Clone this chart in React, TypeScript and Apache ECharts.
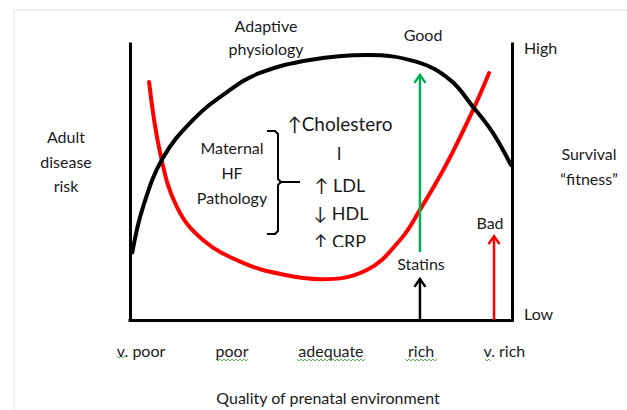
import React, { useEffect, useRef } from "react";
import * as echarts from "echarts";

// Category (tick) labels along the quality-of-environment axis and their positions (0-100 scale)
const categoryLabels = ["v. poor", "poor", "adequate", "rich", "v. rich"];
const categoryValues = [2.9, 26.7, 52.6, 76.2, 98.0];

// Black curve: survival "fitness" (adaptive physiology)
const fitnessX = [0.6, 3.4, 8.6, 16.5, 25.4, 34.0, 47.1, 62.0, 75.1, 83.8, 89.8, 95.0, 99.7];
const fitnessY = [24.5, 40.9, 58.7, 72.5, 82.6, 89.5, 94.2, 96.0, 93.5, 87.0, 77.2, 67.8, 56.2];

// Red curve: adult disease risk
const riskX = [5.0, 7.9, 12.3, 19.1, 29.6, 40.0, 50.0, 62.0, 70.7, 75.9, 83.0, 89.8, 94.0];
const riskY = [86.2, 60.5, 40.9, 29.0, 20.7, 16.5, 14.8, 18.1, 29.0, 39.9, 56.9, 76.1, 89.5];

// Arrows: x position, start value, end (tip) value
const arrowX = [75.9, 75.9, 95.3];
const arrowFrom = [24.6, 0, 0];
const arrowTo = [88.8, 14.9, 30.4];
const arrowColors = ["#00b050", "#000000", "#ff0000"];

// Right axis labels
const rightLabels = ["Low", "High"];
const rightValues = [2.5, 98.9];

const FONT = "Lato, 'DejaVu Sans', sans-serif";
const TXT = "#1a1a1a";
const FS = 16;

function squiggle(x0: number, x1: number, y: number) {
  const pts: number[][] = [];
  let up = true;
  for (let x = x0; x <= x1; x += 2) {
    pts.push([x, up ? y - 1 : y + 1]);
    up = !up;
  }
  return {
    type: "polyline",
    shape: { points: pts },
    style: { stroke: "#5fb35a", lineWidth: 1, fill: null },
    silent: true,
  };
}

function txt(text: string, x: number, y: number, size = FS, align = "center") {
  return {
    type: "text",
    x,
    y,
    style: {
      text,
      fill: TXT,
      font: `${size}px ${FONT}`,
      align,
      verticalAlign: "middle",
    },
    silent: true,
  };
}

export default function App() {
  const ref = useRef<HTMLDivElement>(null);
  useEffect(() => {
    document.body.style.margin = "0";
    const chart = echarts.init(ref.current!, null, { renderer: "svg" });
    const axisLine = { show: true, onZero: false, lineStyle: { color: "#000", width: 3, cap: "square" } };
    chart.setOption({
      animation: false,
      grid: { left: 130, right: 115, top: 44, bottom: 90 },
      xAxis: {
        type: "value",
        min: 0,
        max: 100,
        axisLine,
        axisTick: { show: false },
        splitLine: { show: false },
        axisLabel: {
          customValues: categoryValues,
          formatter: (v: number) => {
            const i = categoryValues.findIndex((c) => Math.abs(c - v) < 0.01);
            return i >= 0 ? categoryLabels[i] : "";
          },
          margin: 22,
          fontSize: FS,
          fontFamily: FONT,
          color: TXT,
        },
        name: "Quality of prenatal environment",
        nameLocation: "middle",
        nameGap: 69,
        nameTextStyle: { fontSize: FS, fontFamily: FONT, color: TXT, padding: [0, 0, 0, 14] },
      },
      yAxis: [
        {
          type: "value",
          min: 0,
          max: 100,
          position: "left",
          axisLine,
          axisTick: { show: false },
          splitLine: { show: false },
          axisLabel: { show: false },
        },
        {
          type: "value",
          min: 0,
          max: 100,
          position: "right",
          axisLine,
          axisTick: { show: false },
          splitLine: { show: false },
          axisLabel: {
            customValues: rightValues,
            formatter: (v: number) => {
              const i = rightValues.findIndex((c) => Math.abs(c - v) < 0.01);
              return i >= 0 ? rightLabels[i] : "";
            },
            margin: 12,
            fontSize: FS,
            fontFamily: FONT,
            color: TXT,
          },
        },
      ],
      series: [
        {
          type: "line",
          smooth: 0.4,
          symbol: "none",
          data: riskX.map((x, i) => [x, riskY[i]]),
          lineStyle: { color: "#ff0000", width: 4, cap: "round" },
          z: 3,
        },
        {
          type: "line",
          smooth: 0.4,
          symbol: "none",
          data: fitnessX.map((x, i) => [x, fitnessY[i]]),
          lineStyle: { color: "#000000", width: 4, cap: "round" },
          z: 4,
        },
        {
          type: "custom",
          clip: false,
          z: 5,
          encode: { x: 0, y: [1, 2] },
          data: arrowX.map((x, i) => [x, arrowFrom[i], arrowTo[i]]),
          renderItem: (params: any, api: any) => {
            const x = api.value(0);
            const p0 = api.coord([x, api.value(1)]);
            const p1 = api.coord([x, api.value(2)]);
            const color = arrowColors[params.dataIndex];
            return {
              type: "group",
              children: [
                {
                  type: "line",
                  shape: { x1: p0[0], y1: p0[1], x2: p1[0], y2: p1[1] + 1 },
                  style: { stroke: color, lineWidth: 2.5 },
                },
                {
                  type: "polyline",
                  shape: {
                    points: [
                      [p1[0] - 5.5, p1[1] + 8],
                      [p1[0], p1[1]],
                      [p1[0] + 5.5, p1[1] + 8],
                    ],
                  },
                  style: { stroke: color, lineWidth: 2.5, fill: null },
                },
              ],
            };
          },
        },
      ],
      graphic: [
        {
          type: "rect",
          shape: { x: 14, y: 10, width: 660, height: 440 },
          style: { stroke: "#dedede", lineWidth: 1, fill: null },
          silent: true,
          z: -1,
        },
        txt("Adaptive", 266, 25),
        txt("physiology", 266, 48),
        txt("Good", 423, 34),
        txt("Adult", 66, 136),
        txt("disease", 66, 161),
        txt("risk", 66, 185),
        txt("Survival", 589, 153),
        txt("\u201cfitness\u201d", 589, 178),
        txt("Maternal", 232, 147),
        txt("HF", 232, 172),
        txt("Pathology", 232, 197),
        txt("\u2191Cholestero", 340, 123, 19),
        txt("l", 339, 153, 18),
        txt("\u2191 LDL", 340, 185, 18),
        txt("\u2193 HDL", 341, 213, 18),
        txt("\u2191 CRP", 340, 241, 18),
        {
          type: "rect",
          shape: { x: 305, y: 247, width: 75, height: 8 },
          style: { fill: "#ffffff" },
          silent: true,
          z: 10,
        },
        txt("Statins", 421, 263),
        txt("Bad", 490, 222),
        {
          type: "polyline",
          shape: {
            points: [
              [267, 131],
              [275, 131],
              [278, 134],
              [278, 179],
              [281, 182],
              [300, 182],
            ],
          },
          style: { stroke: "#000", lineWidth: 2, fill: null },
          silent: true,
        },
        {
          type: "polyline",
          shape: {
            points: [
              [281, 182],
              [278, 185],
              [278, 231],
              [275, 234],
              [267, 234],
            ],
          },
          style: { stroke: "#000", lineWidth: 2, fill: null },
          silent: true,
        },
        squiggle(117, 125, 357),
        squiggle(216, 249, 360),
        squiggle(297, 365, 360),
        squiggle(405, 438, 360),
        squiggle(485, 492, 360),
      ],
    });
    return () => chart.dispose();
  }, []);
  return <div ref={ref} style={{ width: 627, height: 410 }} />;
}
